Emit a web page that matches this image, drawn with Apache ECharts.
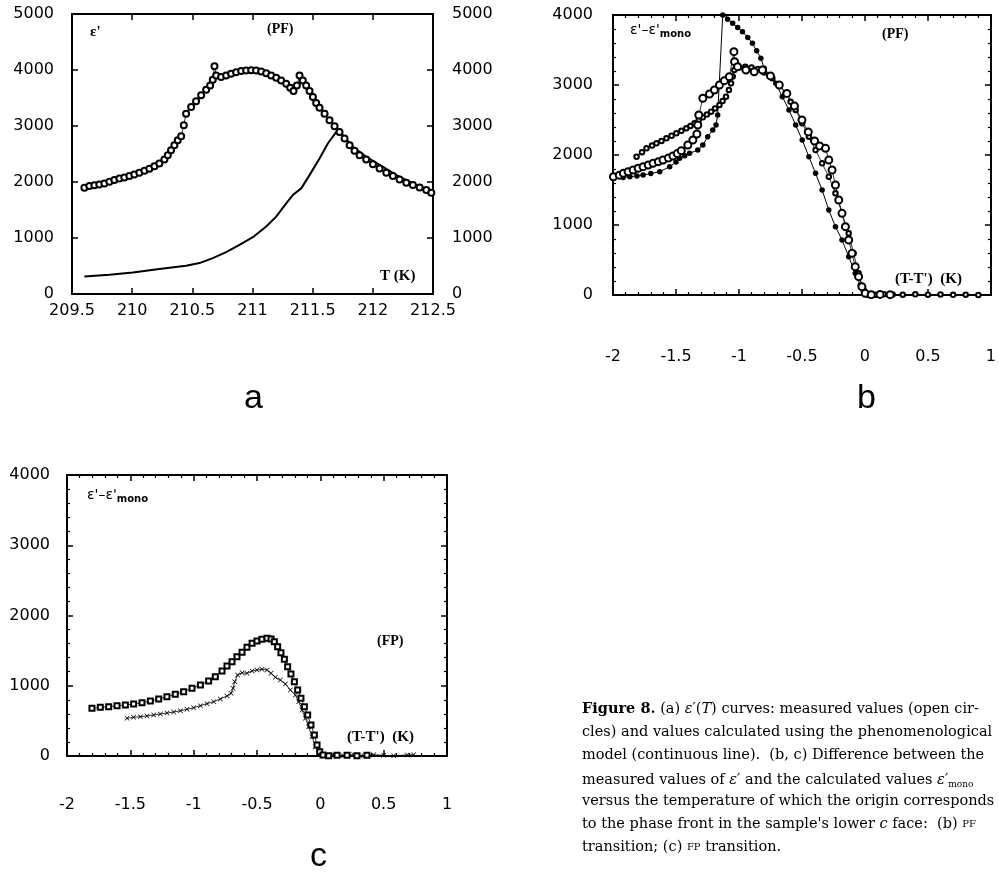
<!DOCTYPE html>
<html><head><meta charset="utf-8">
<script src="https://cdn.jsdelivr.net/npm/echarts@6/dist/echarts.min.js"></script>
<style>html,body{margin:0;padding:0;background:#fff}#c{width:999px;height:881px}</style>
</head><body><div id="c"></div><script>
// ---------- Panel a: eps'(T) ----------
const aT = [209.603,209.644,209.686,209.727,209.769,209.811,209.852,209.894,209.935,209.977,210.018,210.060,210.102,210.143,210.185,210.226,210.268,210.296,210.323,210.351,210.379,210.407,210.429,210.448,210.490,210.531,210.573,210.615,210.648,210.670,210.684,210.698,210.739,210.781,210.822,210.864,210.906,210.947,210.989,211.030,211.072,211.114,211.155,211.197,211.238,211.280,211.313,211.341,211.369,211.391,211.418,211.446,211.474,211.502,211.529,211.557,211.599,211.640,211.682,211.723,211.765,211.807,211.848,211.890,211.945,212.001,212.056,212.112,212.167,212.222,212.278,212.333,212.389,212.444,212.486];
const aMeasured = [1898,1928,1940,1957,1975,2005,2034,2064,2082,2106,2135,2165,2200,2236,2283,2331,2402,2479,2568,2657,2746,2817,3013,3220,3339,3440,3547,3648,3725,3825,4069,3903,3873,3903,3932,3962,3980,3992,3997,3992,3974,3944,3903,3861,3814,3754,3683,3624,3725,3903,3814,3725,3624,3517,3410,3327,3220,3102,2995,2894,2776,2657,2556,2479,2402,2319,2242,2165,2106,2046,1987,1945,1904,1856,1809];
const aCalcT = [209.603,209.811,210.005,210.226,210.448,210.559,210.670,210.781,210.892,211.003,211.114,211.197,211.280,211.335,211.405,211.474,211.557,211.626,211.696,211.751,211.834,211.945,212.084,212.222,212.361,212.500];
const aCalc = [314,344,386,445,504,552,641,747,878,1014,1204,1382,1619,1767,1886,2123,2420,2687,2894,2835,2627,2450,2272,2094,1945,1797];

// ---------- Panel b: eps' - eps'mono (PF) ----------
const bFilledX = [-1.997,-1.92,-1.866,-1.81,-1.761,-1.70,-1.629,-1.55,-1.50,-1.471,-1.43,-1.392,-1.327,-1.287,-1.248,-1.208,-1.182,-1.169,-1.129,-1.09,-1.05,-1.01,-0.972,-0.93,-0.893,-0.86,-0.826,-0.80,-0.76,-0.708,-0.656,-0.603,-0.55,-0.498,-0.445,-0.392,-0.34,-0.287,-0.234,-0.182,-0.129,-0.077,-0.037,0.002,0.1,0.2,0.3,0.4,0.5,0.6,0.7,0.8,0.9,1.0];
const bFilledY = [1667,1680,1690,1700,1714,1735,1762,1833,1900,1952,1990,2024,2071,2143,2262,2357,2429,2571,4000,3940,3881,3820,3762,3680,3595,3490,3381,3240,3130,3024,2833,2643,2429,2214,1976,1738,1500,1214,976,786,548,310,143,24,0,-3,-5,-8,-8,-10,-8,-10,-8,-12];
const bLargeX = [-1.997,-1.95,-1.918,-1.88,-1.84,-1.80,-1.761,-1.72,-1.682,-1.64,-1.603,-1.56,-1.524,-1.49,-1.458,-1.406,-1.366,-1.334,-1.327,-1.319,-1.287,-1.234,-1.195,-1.155,-1.116,-1.077,-1.04,-1.035,-1.011,-0.945,-0.879,-0.814,-0.75,-0.68,-0.62,-0.56,-0.50,-0.45,-0.40,-0.36,-0.313,-0.287,-0.261,-0.234,-0.208,-0.182,-0.155,-0.129,-0.103,-0.077,-0.05,-0.024,0.002,0.05,0.12,0.2];
const bLargeY = [1690,1712,1738,1762,1786,1810,1833,1857,1881,1905,1929,1957,1986,2020,2062,2143,2214,2300,2429,2571,2810,2871,2929,3000,3062,3119,3476,3333,3262,3214,3190,3214,3130,3000,2880,2700,2500,2330,2200,2130,2095,1929,1786,1571,1357,1167,976,786,595,405,262,119,24,5,8,5];
const bSmallX = [-1.813,-1.77,-1.734,-1.69,-1.655,-1.615,-1.576,-1.535,-1.497,-1.457,-1.418,-1.385,-1.353,-1.32,-1.287,-1.255,-1.221,-1.19,-1.155,-1.13,-1.103,-1.08,-1.063,-1.05,-1.037,-1.0,-0.95,-0.90,-0.85,-0.80,-0.735,-0.68,-0.629,-0.59,-0.55,-0.498,-0.445,-0.392,-0.34,-0.287,-0.234,-0.182,-0.129,-0.09,-0.05,-0.011,0.028,0.08,0.15,0.22,0.3,0.4,0.5,0.6,0.7,0.8,0.9];
const bSmallY = [1976,2040,2095,2135,2167,2200,2238,2275,2310,2345,2381,2415,2452,2495,2538,2578,2619,2665,2714,2770,2833,2930,3024,3120,3214,3250,3260,3250,3230,3180,3095,2990,2881,2760,2643,2452,2262,2071,1881,1690,1452,1167,881,595,310,71,0,5,12,8,5,10,5,8,3,5,0];

// ---------- Panel c: eps' - eps'mono (FP) ----------
const cSquareX = [-1.803,-1.737,-1.671,-1.605,-1.539,-1.474,-1.408,-1.342,-1.276,-1.211,-1.145,-1.079,-1.013,-0.947,-0.882,-0.829,-0.776,-0.737,-0.697,-0.658,-0.618,-0.579,-0.539,-0.500,-0.461,-0.421,-0.389,-0.363,-0.337,-0.311,-0.284,-0.258,-0.232,-0.205,-0.179,-0.153,-0.126,-0.100,-0.074,-0.047,-0.026,-0.005,0.021,0.066,0.132,0.211,0.289,0.368];
const cSquareY = [679,693,702,716,726,740,759,783,811,845,878,916,963,1011,1068,1129,1210,1281,1343,1414,1476,1547,1604,1637,1661,1675,1665,1628,1556,1471,1376,1272,1167,1058,940,821,702,584,441,299,157,62,14,5,9,9,5,9];
const cCrossX = [-1.526,-1.474,-1.421,-1.368,-1.316,-1.263,-1.211,-1.158,-1.105,-1.053,-1.000,-0.947,-0.895,-0.842,-0.789,-0.737,-0.705,-0.689,-0.676,-0.653,-0.618,-0.579,-0.539,-0.500,-0.461,-0.421,-0.389,-0.355,-0.316,-0.276,-0.237,-0.197,-0.171,-0.145,-0.118,-0.092,-0.066,-0.039,-0.013,0.026,0.105,0.184,0.263,0.342,0.421,0.500,0.579,0.684,0.737];
const cCrossY = [536,550,560,569,584,598,612,626,645,664,688,716,745,773,811,854,892,963,1058,1153,1186,1177,1210,1224,1234,1224,1177,1120,1082,1025,940,868,773,655,536,418,275,133,38,0,14,5,19,5,19,9,5,14,19];

// ---------- tick labels ----------
const aXTicks = [209.5, 212.5, 0.5];   // min, max, step
const aYTicks = [0, 5000, 1000];
const bcXTicks = [-2, 1, 0.5];
const bcYTicks = [0, 4000, 1000];

const zip = (xs, ys) => xs.map((x, i) => [x, ys[i]]);
const LBL = {color:'#000', fontFamily:'DejaVu Sans', fontSize:16, showMinLabel:true, showMaxLabel:true, hideOverlap:false,
  formatter: v => String(v)};

function ax(g, t, pos, show, margin, minor) {
  return {type:'value', gridIndex:g, position:pos, min:t[0], max:t[1], interval:t[2],
    axisLine:{show:true, onZero:false, lineStyle:{color:'#000', width:2}},
    axisTick:{show:true, inside:true, length:6, lineStyle:{color:'#000', width:1.5}},
    minorTick:{show:minor, splitNumber:5, length:3, lineStyle:{color:'#000', width:1.2}},
    splitLine:{show:false}, minorSplitLine:{show:false},
    axisLabel:Object.assign({show:show, margin:margin}, LBL)};
}

const crossPath = 'path://M0,1L1,0L5,4L9,0L10,1L6,5L10,9L9,10L5,6L1,10L0,9L4,5Z';
const serif = '"Liberation Serif", "Times New Roman", serif';
const capFont = '"DejaVu Serif", serif';
const CS = 14.5;

const chart = echarts.init(document.getElementById('c'), null, {renderer:'canvas'});
chart.setOption({
  backgroundColor:'#fff',
  animation:false,
  grid:[
    {left:72, top:14, width:361, height:280},
    {left:613, top:15, width:380, height:280},
    {left:67, top:475, width:380, height:281}
  ],
  xAxis:[
    ax(0, aXTicks, 'bottom', true, 9, false),
    ax(0, aXTicks, 'top', false, 8, false),
    ax(1, bcXTicks, 'bottom', true, 54, true),
    ax(1, bcXTicks, 'top', false, 8, true),
    ax(2, bcXTicks, 'bottom', true, 41, true),
    ax(2, bcXTicks, 'top', false, 8, true)
  ],
  yAxis:[
    ax(0, aYTicks, 'left', true, 18, false),
    ax(0, aYTicks, 'right', true, 19, false),
    ax(1, bcYTicks, 'left', true, 20, true),
    ax(1, bcYTicks, 'right', false, 8, true),
    ax(2, bcYTicks, 'left', true, 17, true),
    ax(2, bcYTicks, 'right', false, 8, true)
  ],
  series:[
    {type:'line', xAxisIndex:0, yAxisIndex:0, data:zip(aT, aMeasured), symbol:'emptyCircle', symbolSize:6, showAllSymbol:true,
      lineStyle:{color:'#000', width:0.8}, itemStyle:{color:'#000', borderWidth:1}},
    {type:'line', xAxisIndex:0, yAxisIndex:0, data:zip(aCalcT, aCalc), symbol:'none',
      lineStyle:{color:'#000', width:2}},
    {type:'line', xAxisIndex:2, yAxisIndex:2, data:zip(bFilledX, bFilledY), symbol:'circle', symbolSize:5.5, showAllSymbol:true,
      lineStyle:{color:'#000', width:1}, itemStyle:{color:'#000'}},
    {type:'line', xAxisIndex:2, yAxisIndex:2, data:zip(bSmallX, bSmallY), symbol:'emptyCircle', symbolSize:4.5, showAllSymbol:true,
      lineStyle:{color:'#000', width:0.8}, itemStyle:{color:'#000', borderWidth:1}},
    {type:'line', xAxisIndex:2, yAxisIndex:2, data:zip(bLargeX, bLargeY), symbol:'emptyCircle', symbolSize:7, showAllSymbol:true,
      lineStyle:{color:'#000', width:0.8}, itemStyle:{color:'#000', borderWidth:1}},
    {type:'line', xAxisIndex:4, yAxisIndex:4, data:zip(cCrossX, cCrossY), symbol:crossPath, symbolSize:5, showAllSymbol:true,
      lineStyle:{color:'#000', width:0.8}, itemStyle:{color:'#000'}},
    {type:'line', xAxisIndex:4, yAxisIndex:4, data:zip(cSquareX, cSquareY), symbol:'emptyRect', symbolSize:5, showAllSymbol:true,
      lineStyle:{color:'#000', width:0.8}, itemStyle:{color:'#000', borderWidth:1}}
  ],
  graphic:[
    {type:'text', left:90, top:25, style:{text:"ε'", font:'bold 15px ' + serif, fill:'#000'}},
    {type:'text', left:267, top:22, style:{text:'(PF)', font:'bold 14px ' + serif, fill:'#000'}},
    {type:'text', left:380, top:269, style:{text:'T (K)', font:'bold 15px ' + serif, fill:'#000'}},
    {type:'text', left:630, top:23, style:{text:"{m|ε'–ε'}{s|mono}", rich:{m:{fontFamily:'DejaVu Sans', fontSize:14, lineHeight:18}, s:{fontFamily:'DejaVu Sans', fontSize:10, fontWeight:'bold', verticalAlign:'bottom', lineHeight:12}}, fill:'#000'}},
    {type:'text', left:882, top:27, style:{text:'(PF)', font:'bold 14px ' + serif, fill:'#000'}},
    {type:'text', left:895, top:272, style:{text:"(T-T')  (K)", font:'bold 15px ' + serif, fill:'#000'}},
    {type:'text', left:87, top:488, style:{text:"{m|ε'–ε'}{s|mono}", rich:{m:{fontFamily:'DejaVu Sans', fontSize:14, lineHeight:18}, s:{fontFamily:'DejaVu Sans', fontSize:10, fontWeight:'bold', verticalAlign:'bottom', lineHeight:12}}, fill:'#000'}},
    {type:'text', left:377, top:634, style:{text:'(FP)', font:'bold 14px ' + serif, fill:'#000'}},
    {type:'text', left:347, top:730, style:{text:"(T-T')  (K)", font:'bold 15px ' + serif, fill:'#000'}},
    {type:'text', left:244, top:382, style:{text:'a', font:'34px "Liberation Sans", Arial, sans-serif', fill:'#000'}},
    {type:'text', left:857, top:382, style:{text:'b', font:'34px "Liberation Sans", Arial, sans-serif', fill:'#000'}},
    {type:'text', left:310, top:840, style:{text:'c', font:'34px "Liberation Sans", Arial, sans-serif', fill:'#000'}},
    {type:'group', left:582, top:702, children:[
      {type:'text', x:0, y:0, style:{text:'{b|Figure 8.} (a) {i|ε}′({i|T}) curves: measured values (open cir-', font:CS + 'px ' + capFont, fill:'#000', rich:{b:{fontFamily:'DejaVu Serif', fontSize:CS, fontWeight:'bold'}, i:{fontFamily:'DejaVu Serif', fontSize:CS, fontStyle:'italic'}}}},
      {type:'text', x:0, y:23, style:{text:'cles) and values calculated using the phenomenological', font:CS + 'px ' + capFont, fill:'#000'}},
      {type:'text', x:0, y:46, style:{text:'model (continuous line).  (b, c) Difference between the', font:CS + 'px ' + capFont, fill:'#000'}},
      {type:'text', x:0, y:69, style:{text:'measured values of {i|ε}′ and the calculated values {i|ε}′{s|mono}', font:CS + 'px ' + capFont, fill:'#000', rich:{i:{fontFamily:'DejaVu Serif', fontSize:CS, fontStyle:'italic', lineHeight:18}, s:{fontFamily:'DejaVu Serif', fontSize:9, verticalAlign:'bottom', lineHeight:12}}}},
      {type:'text', x:0, y:92, style:{text:'versus the temperature of which the origin corresponds', font:CS + 'px ' + capFont, fill:'#000'}},
      {type:'text', x:0, y:115, style:{text:"to the phase front in the sample's lower {i|c} face:  (b) {sc|PF}", font:CS + 'px ' + capFont, fill:'#000', rich:{i:{fontFamily:'DejaVu Serif', fontSize:CS, fontStyle:'italic'}, sc:{fontFamily:'DejaVu Serif', fontSize:10}}}},
      {type:'text', x:0, y:138, style:{text:'transition; (c) {sc|FP} transition.', font:CS + 'px ' + capFont, fill:'#000', rich:{sc:{fontFamily:'DejaVu Serif', fontSize:10}}}}
    ]}
  ]
});
</script></body></html>
